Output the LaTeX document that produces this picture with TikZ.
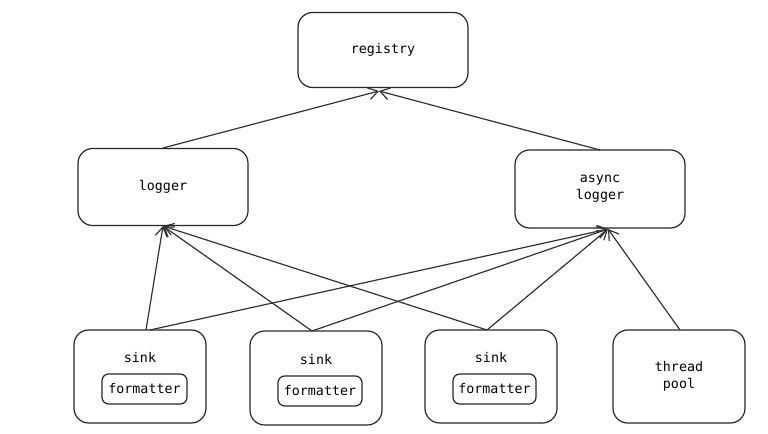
\documentclass[tikz,border=0pt]{standalone}
\usepackage{fontspec}
\setmonofont{DejaVu Sans Mono}
\usetikzlibrary{arrows.meta}
\tikzset{
  box/.style={draw=black!85, line width=0.9pt, rounded corners=11pt, inner sep=0pt,
    font=\ttfamily\fontsize{10}{12.5}\selectfont, align=center},
  inbox/.style={draw=black!85, line width=0.9pt, rounded corners=5pt, inner sep=0pt,
    font=\ttfamily\fontsize{10}{12.5}\selectfont},
  conn/.style={draw=black!80, line width=0.9pt, -{Straight Barb[length=7pt,width=9pt]}},
  lbl/.style={font=\ttfamily\fontsize{10}{12.5}\selectfont, inner sep=0pt}
}
\begin{document}
\begin{tikzpicture}[x=0.75pt,y=-0.75pt]
\useasboundingbox (0,0) rectangle (768,434);
% main nodes
\node[box, minimum width=127.5pt, minimum height=56.25pt] (reg) at (383,50) {registry};
\node[box, minimum width=127.5pt, minimum height=57.75pt] (log) at (163,187) {logger};
\node[box, minimum width=127.5pt, minimum height=58.5pt] (alog) at (600,189) {async\\logger};
% sinks
\node[box, minimum width=99pt, minimum height=69.75pt] (s1) at (140,376.5) {};
\node[lbl] (s1t) at (140,358) {sink};
\node[inbox, minimum width=63.75pt, minimum height=22.5pt] (f1) at (144.5,389) {formatter};
\node[box, minimum width=99pt, minimum height=70.5pt] (s2) at (316,378) {};
\node[lbl] (s2t) at (316,360) {sink};
\node[inbox, minimum width=63pt, minimum height=22.5pt] (f2) at (320,391) {formatter};
\node[box, minimum width=99pt, minimum height=69.75pt] (s3) at (491,376.5) {};
\node[lbl] (s3t) at (491,358) {sink};
\node[inbox, minimum width=62.25pt, minimum height=22.5pt] (f3) at (494.5,389) {formatter};
\node[box, minimum width=99pt, minimum height=69.75pt] (tp) at (679,376.5) {thread\\pool};
% anchor coordinates
\coordinate (regB) at (379,91);
\coordinate (logB) at (163,226);
\coordinate (alogB) at (608,229);
\coordinate (logT) at (163,148);
\coordinate (alogT) at (600,150);
\coordinate (s1T) at (146,330);
\coordinate (s1T2) at (150,330);
\coordinate (s2T) at (312,331);
\coordinate (s3T) at (487,330);
\coordinate (tpT) at (680,330);
% connectors
\draw[conn] (logT) -- (regB);
\draw[conn] (alogT) -- (regB);
\draw[conn] (s1T) -- (logB);
\draw[conn] (s1T2) -- (alogB);
\draw[conn] (s2T) -- (logB);
\draw[conn] (s2T) -- (alogB);
\draw[conn] (s3T) -- (logB);
\draw[conn] (s3T) -- (alogB);
\draw[conn] (tpT) -- (alogB);
\end{tikzpicture}
\end{document}
